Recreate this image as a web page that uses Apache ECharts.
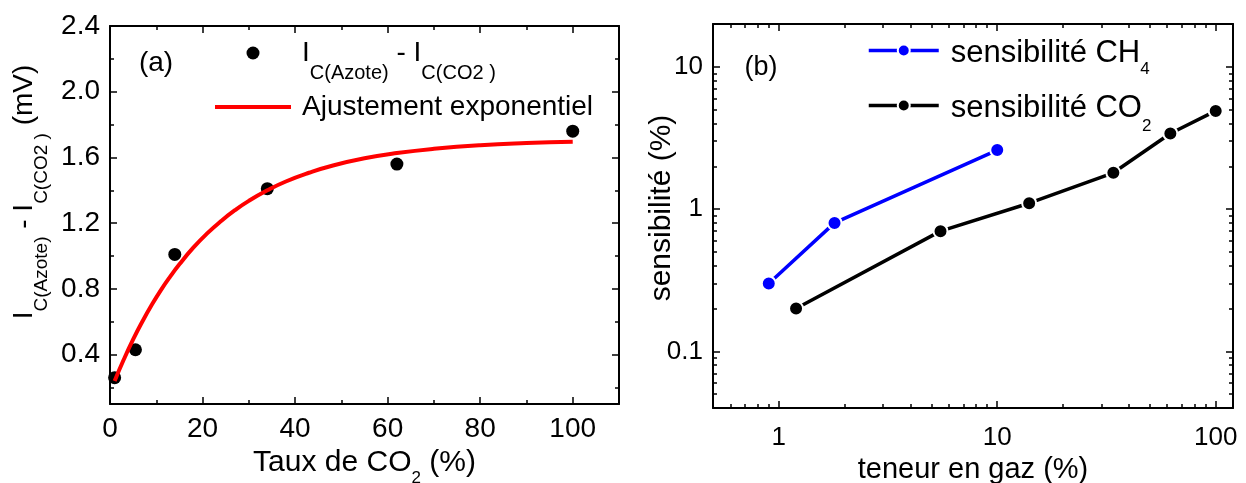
<!DOCTYPE html>
<html><head><meta charset="utf-8">
<script src="https://cdn.jsdelivr.net/npm/echarts@6/dist/echarts.min.js"></script>
<style>html,body{margin:0;padding:0;background:#fff}#c{width:1246px;height:483px}</style>
</head><body><div id="c"></div>
<script>
// ---- Panel (a) data ----
const xA_points = [1, 5.5, 14, 34, 62, 100];
const yA_points = [0.26, 0.43, 1.01, 1.41, 1.56, 1.76];
const xA_fit = [1, 3, 5, 7, 9, 11, 13, 15, 18, 21, 24, 27, 30, 34, 38, 43, 48, 55, 62, 70, 80, 90, 100];
const yA_fit = [0.24, 0.372, 0.493, 0.602, 0.702, 0.793, 0.875, 0.950, 1.051, 1.138, 1.213, 1.279, 1.336,
                1.400, 1.454, 1.507, 1.550, 1.595, 1.627, 1.653, 1.675, 1.688, 1.696];
const xA_ticks = [0, 20, 40, 60, 80, 100];
const xA_minor = [10, 30, 50, 70, 90];
const yA_ticks = [0.4, 0.8, 1.2, 1.6, 2.0, 2.4];
const yA_minor = [0.2, 0.6, 1.0, 1.4, 1.8, 2.2];

// ---- Panel (b) data ----
const xB_CH4 = [0.9, 1.8, 10];
const yB_CH4 = [0.3, 0.8, 2.6];
const xB_CO2 = [1.2, 5.5, 14, 34, 62, 100];
const yB_CO2 = [0.2, 0.7, 1.1, 1.8, 3.4, 4.9];
const xB_ticks = [1, 10, 100];
const xB_minor = [0.5, 0.6, 0.7, 0.8, 0.9, 2, 3, 4, 5, 6, 7, 8, 9, 20, 30, 40, 50, 60, 70, 80, 90];
const yB_ticks = [0.1, 1, 10];
const yB_minor = [0.05, 0.06, 0.07, 0.08, 0.09, 0.2, 0.3, 0.4, 0.5, 0.6, 0.7, 0.8, 0.9, 2, 3, 4, 5, 6, 7, 8, 9, 20];

const FONT = "'Liberation Sans', Arial, Helvetica, sans-serif";
const LW = 2;
const zip = (a, b) => a.map((v, i) => [v, b[i]]);

function mkAxis(o) {
  const ax = {
    gridIndex: o.grid, type: o.type, position: o.pos, min: o.min, max: o.max,
    axisLine: { show: !o.minor, onZero: false, lineStyle: { color: '#000', width: LW } },
    axisTick: { show: true, inside: true, length: o.minor ? 4 : 7, customValues: o.ticks,
      lineStyle: { color: '#000', width: 1.5 } },
    axisLabel: { show: false },
    splitLine: { show: false }, minorTick: { show: false }, minorSplitLine: { show: false }
  };
  if (o.type === 'log') ax.logBase = 10;
  if (o.labels) {
    ax.axisLabel = { show: true, customValues: o.ticks, fontSize: o.fs, fontFamily: FONT,
      color: '#000', margin: o.margin, formatter: o.fmt };
  }
  if (o.name) Object.assign(ax, o.name);
  return ax;
}

// main text centred; subscript placed d px lower: lineHeight = 2*d + subFont
const subRich = (mfs, d, sfs) => ({
  m: { fontSize: mfs, lineHeight: 2 * d + sfs, fontFamily: FONT, color: '#000' },
  s: { fontSize: sfs, verticalAlign: 'bottom', fontFamily: FONT, color: '#000' }
});

const fmtInt = v => String(Math.round(+v));
const fmt1 = v => (+v).toFixed(1);
const fmtLog = v => String(+(+v).toPrecision(6));

const xAxes = [
  mkAxis({ grid: 0, type: 'value', pos: 'bottom', min: 0, max: 110, ticks: xA_ticks, labels: true, fs: 28, margin: 11, fmt: fmtInt,
    name: { name: '{m|Taux de CO}{s|2}{m| (%)}', nameLocation: 'middle', nameGap: 34,
      nameTextStyle: { rich: subRich(30, 15, 17) } } }),
  mkAxis({ grid: 0, type: 'value', pos: 'bottom', min: 0, max: 110, ticks: xA_minor, minor: true }),
  mkAxis({ grid: 0, type: 'value', pos: 'top', min: 0, max: 110, ticks: xA_ticks }),
  mkAxis({ grid: 0, type: 'value', pos: 'top', min: 0, max: 110, ticks: xA_minor, minor: true }),
  mkAxis({ grid: 1, type: 'log', pos: 'bottom', min: 0.5, max: 120, ticks: xB_ticks, labels: true, fs: 26, margin: 17, fmt: fmtLog,
    name: { name: 'teneur en gaz (%)', nameLocation: 'middle', nameGap: 42,
      nameTextStyle: { fontSize: 29, fontFamily: FONT, color: '#000' } } }),
  mkAxis({ grid: 1, type: 'log', pos: 'bottom', min: 0.5, max: 120, ticks: xB_minor, minor: true }),
  mkAxis({ grid: 1, type: 'log', pos: 'top', min: 0.5, max: 120, ticks: xB_ticks }),
  mkAxis({ grid: 1, type: 'log', pos: 'top', min: 0.5, max: 120, ticks: xB_minor, minor: true })
];
const yAxes = [
  mkAxis({ grid: 0, type: 'value', pos: 'left', min: 0.1, max: 2.4, ticks: yA_ticks, labels: true, fs: 28, margin: 10, fmt: fmt1 }),
  mkAxis({ grid: 0, type: 'value', pos: 'left', min: 0.1, max: 2.4, ticks: yA_minor, minor: true }),
  mkAxis({ grid: 0, type: 'value', pos: 'right', min: 0.1, max: 2.4, ticks: yA_ticks }),
  mkAxis({ grid: 0, type: 'value', pos: 'right', min: 0.1, max: 2.4, ticks: yA_minor, minor: true }),
  mkAxis({ grid: 1, type: 'log', pos: 'left', min: 0.04, max: 20, ticks: yB_ticks, labels: true, fs: 26, margin: 10, fmt: fmtLog,
    name: { name: 'sensibilité (%)', nameLocation: 'middle', nameGap: 36, nameRotate: 90, nameMoveOverlap: false,
      nameTextStyle: { fontSize: 30, fontFamily: FONT, color: '#000', padding: [0, 0, 0, 16] } } }),
  mkAxis({ grid: 1, type: 'log', pos: 'left', min: 0.04, max: 20, ticks: yB_minor, minor: true }),
  mkAxis({ grid: 1, type: 'log', pos: 'right', min: 0.04, max: 20, ticks: yB_ticks }),
  mkAxis({ grid: 1, type: 'log', pos: 'right', min: 0.04, max: 20, ticks: yB_minor, minor: true })
];

const NAME_PTS = 'I C(Azote) - I C(CO2 )';
const NAME_FIT = 'Ajustement exponentiel';
const NAME_CH4 = 'sensibilité CH4';
const NAME_CO2 = 'sensibilité CO2';

const option = {
  backgroundColor: '#fff',
  animation: false,
  textStyle: { fontFamily: FONT },
  grid: [
    { left: 110, top: 26, width: 509, height: 378, outerBoundsMode: 'none', containLabel: false },
    { left: 713, top: 24, width: 520, height: 384, outerBoundsMode: 'none', containLabel: false }
  ],
  xAxis: xAxes,
  yAxis: yAxes,
  legend: [
    { data: [NAME_PTS], left: 246.5, top: 39, orient: 'vertical', padding: 0, itemWidth: 76, itemHeight: 13,
      itemStyle: { opacity: 1 },
      formatter: () => '{m|I}{s|C(Azote)}{m| - I}{s|C(CO2 )}',
      textStyle: { padding: [0, 0, 0, 6], rich: subRich(28, 20, 20) } },
    { data: [{ name: NAME_FIT, icon: 'rect' }], left: 215, top: 91, orient: 'vertical', padding: 0, itemWidth: 76, itemHeight: 4,
      textStyle: { fontSize: 28, lineHeight: 32, fontFamily: FONT, color: '#000', padding: [0, 0, 0, 6] } },
    { data: [NAME_CH4], left: 867, top: 38, orient: 'vertical', padding: 0, itemWidth: 70, itemHeight: 15,
      lineStyle: { width: 3.5 },
      formatter: () => '{m|sensibilité CH}{s|4}',
      textStyle: { padding: [6, 0, 0, 7], rich: subRich(31, 16, 17) } },
    { data: [NAME_CO2], left: 867, top: 93, orient: 'vertical', padding: 0, itemWidth: 70, itemHeight: 15,
      lineStyle: { width: 3.5 },
      formatter: () => '{m|sensibilité CO}{s|2}',
      textStyle: { padding: [6, 0, 0, 7], rich: subRich(31, 18, 17) } }
  ],
  graphic: [
    { type: 'text', x: 24, y: 192, rotation: Math.PI / 2,
      style: { text: '{m|I}{s|C(Azote)}{m| - I}{s|C(CO2 )}{m| (mV)}', align: 'center', verticalAlign: 'middle',
        rich: { m: { fontSize: 28, lineHeight: 55, fontFamily: FONT, fill: '#000' },
                s: { fontSize: 19, verticalAlign: 'bottom', fontFamily: FONT, fill: '#000' } } } },
    { type: 'text', x: 156, y: 63, style: { text: '(a)', fontSize: 28, fontFamily: FONT, fill: '#000', align: 'center', verticalAlign: 'middle' } },
    { type: 'text', x: 761, y: 68, style: { text: '(b)', fontSize: 27, fontFamily: FONT, fill: '#000', align: 'center', verticalAlign: 'middle' } }
  ],
  series: [
    { name: NAME_PTS, type: 'scatter', xAxisIndex: 0, yAxisIndex: 0, data: zip(xA_points, yA_points),
      symbol: 'circle', symbolSize: 13, itemStyle: { color: '#000', opacity: 1 } },
    { name: NAME_FIT, type: 'line', xAxisIndex: 0, yAxisIndex: 0, data: zip(xA_fit, yA_fit),
      smooth: true, symbol: 'none', lineStyle: { color: '#ff0000', width: 4 }, itemStyle: { color: '#ff0000' } },
    { name: NAME_CH4, type: 'line', xAxisIndex: 4, yAxisIndex: 4, data: zip(xB_CH4, yB_CH4),
      symbol: 'circle', symbolSize: 14, lineStyle: { color: '#0000ff', width: 3.5 },
      itemStyle: { color: '#0000ff', borderColor: '#fff', borderWidth: 2 } },
    { name: NAME_CO2, type: 'line', xAxisIndex: 4, yAxisIndex: 4, data: zip(xB_CO2, yB_CO2),
      symbol: 'circle', symbolSize: 14, lineStyle: { color: '#000', width: 3.5 },
      itemStyle: { color: '#000', borderColor: '#fff', borderWidth: 2 } }
  ]
};
const chart = echarts.init(document.getElementById('c'), null, { renderer: 'canvas' });
chart.setOption(option);
</script></body></html>
